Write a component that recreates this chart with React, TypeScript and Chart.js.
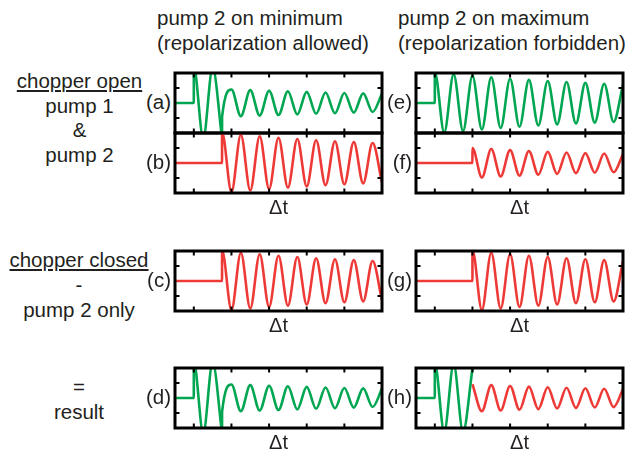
import React, { useEffect, useRef } from "react";
import { Chart, registerables } from "chart.js";
Chart.register(...registerables);

const GREEN = "#00a651";
const RED = "#ee3a37";
const INK = "#231f20";
const FONT = '"Liberation Sans", Arial, Helvetica, sans-serif';

// axis
const xRange = [0, 11];
const yRange = [-2, 2];
const xTicks = [1, 3, 5, 7, 9];
const yTicks = [-1, 1];

// (a) and (d): pump 1 burst, then reduced oscillation after pump 2 (on minimum)
const aBurstX = [0, 1, 1.001, 1.5, 2, 2.5];
const aBurstY = [0, 0, 2.4, -2.35, 2.35, -2.35];
const aTailX = [2.5, 2.501, 3, 3.5, 4, 4.5, 5, 5.5, 6, 6.5, 7, 7.5, 8, 8.5, 9, 9.5, 10, 10.5, 11];
const aTailY = [-2.35, -0.93, 0.9, -0.88, 0.86, -0.84, 0.82, -0.8, 0.78, -0.76, 0.74, -0.72, 0.7, -0.68, 0.67, -0.64, 0.64, -0.6, 0.62];

// (b) and (c): pump 2 alone, minimum phase
const bX = [0, 2.5, 2.501, 3, 3.5, 4, 4.5, 5, 5.5, 6, 6.5, 7, 7.5, 8, 8.5, 9, 9.5, 10, 10.5, 11];
const bY = [0, 0, 2.05, -1.93, 1.88, -1.83, 1.78, -1.73, 1.68, -1.64, 1.6, -1.56, 1.52, -1.48, 1.45, -1.42, 1.39, -1.36, 1.33, -1.3];

// (e): pump 1 & pump 2 on maximum
const eX = [0, 1, 1.001, 1.5, 2, 2.5, 3, 3.5, 4, 4.5, 5, 5.5, 6, 6.5, 7, 7.5, 8, 8.5, 9, 9.5, 10, 10.5, 11];
const eY = [0, 0, 2.05, -1.97, 1.92, -1.86, 1.82, -1.76, 1.72, -1.67, 1.62, -1.58, 1.54, -1.5, 1.47, -1.43, 1.4, -1.37, 1.34, -1.31, 1.28, -1.26, 1.22];

// (f): pump 2 contribution on maximum
const fX = [0, 3, 3.001, 3.5, 4, 4.5, 5, 5.5, 6, 6.5, 7, 7.5, 8, 8.5, 9, 9.5, 10, 10.5, 11];
const fY = [0, 0, 1.0, -0.97, 0.93, -0.9, 0.86, -0.84, 0.8, -0.78, 0.75, -0.73, 0.7, -0.68, 0.66, -0.65, 0.63, -0.62, 0.6];

// (g): pump 2 only, maximum phase
const gX = [0, 3, 3.001, 3.5, 4, 4.5, 5, 5.5, 6, 6.5, 7, 7.5, 8, 8.5, 9, 9.5, 10, 10.5, 11];
const gY = [0, 0, 2.05, -1.93, 1.88, -1.83, 1.78, -1.73, 1.68, -1.64, 1.6, -1.56, 1.52, -1.48, 1.45, -1.42, 1.39, -1.36, 1.33];

// (h): result
const hBurstX = [0, 1, 1.001, 1.5, 2, 2.5, 3];
const hBurstY = [0, 0, 2.3, -2.25, 2.25, -2.25, 1.95];
const hTailX = [3, 3.5, 4, 4.5, 5, 5.5, 6, 6.5, 7, 7.5, 8, 8.5, 9, 9.5, 10, 10.5, 11];
const hTailY = [0.92, -0.88, 0.86, -0.83, 0.8, -0.78, 0.76, -0.74, 0.72, -0.7, 0.68, -0.66, 0.65, -0.63, 0.62, -0.61, 0.6];

type Series = { x: number[]; y: number[]; color: string };

const BOX_W = 207;
const BOX_H = 60;
const PAD = 4;
const COL_LEFT = [175, 416];
const ROW_TOP = [73, 133, 251, 368];

const panels: { id: string; col: number; row: number; series: Series[] }[] = [
  { id: "a", col: 0, row: 0, series: [{ x: aBurstX, y: aBurstY, color: GREEN }, { x: aTailX, y: aTailY, color: GREEN }] },
  { id: "b", col: 0, row: 1, series: [{ x: bX, y: bY, color: RED }] },
  { id: "c", col: 0, row: 2, series: [{ x: bX, y: bY, color: RED }] },
  { id: "d", col: 0, row: 3, series: [{ x: aBurstX, y: aBurstY, color: GREEN }, { x: aTailX, y: aTailY, color: GREEN }] },
  { id: "e", col: 1, row: 0, series: [{ x: eX, y: eY, color: GREEN }] },
  { id: "f", col: 1, row: 1, series: [{ x: fX, y: fY, color: RED }] },
  { id: "g", col: 1, row: 2, series: [{ x: gX, y: gY, color: RED }] },
  { id: "h", col: 1, row: 3, series: [{ x: hBurstX, y: hBurstY, color: GREEN }, { x: hTailX, y: hTailY, color: RED }] },
];

const framePlugin = {
  id: "frame",
  afterDatasetsDraw(chart: any) {
    const { ctx, chartArea } = chart;
    const { left, right, top, bottom } = chartArea;
    const xs = chart.scales.x;
    const ys = chart.scales.y;
    const tl = 4.5;
    ctx.save();
    ctx.strokeStyle = "#000";
    ctx.lineWidth = 2;
    ctx.beginPath();
    for (const v of xTicks) {
      const px = xs.getPixelForValue(v);
      ctx.moveTo(px, top);
      ctx.lineTo(px, top + tl);
      ctx.moveTo(px, bottom);
      ctx.lineTo(px, bottom - tl);
    }
    for (const v of yTicks) {
      const py = ys.getPixelForValue(v);
      ctx.moveTo(left, py);
      ctx.lineTo(left + tl, py);
      ctx.moveTo(right, py);
      ctx.lineTo(right - tl, py);
    }
    ctx.stroke();
    ctx.lineWidth = 3;
    ctx.strokeRect(left, top, right - left, bottom - top);
    ctx.restore();
  },
};

function Panel({ left, top, series }: { left: number; top: number; series: Series[] }) {
  const ref = useRef<HTMLCanvasElement>(null);
  useEffect(() => {
    if (!ref.current) return;
    const chart = new Chart(ref.current, {
      type: "line",
      data: {
        datasets: series.map((s) => ({
          data: s.x.map((x, i) => ({ x, y: s.y[i] })),
          borderColor: s.color,
          borderWidth: 2.6,
          pointRadius: 0,
          fill: false,
          cubicInterpolationMode: "monotone" as const,
        })),
      },
      options: {
        animation: false,
        responsive: false,
        events: [],
        layout: { padding: PAD },
        plugins: { legend: { display: false }, tooltip: { enabled: false } },
        scales: {
          x: { type: "linear", min: xRange[0], max: xRange[1], display: false },
          y: { type: "linear", min: yRange[0], max: yRange[1], display: false },
        },
      },
      plugins: [framePlugin],
    } as any);
    return () => chart.destroy();
  }, []);
  return (
    <canvas
      ref={ref}
      width={BOX_W + 2 * PAD}
      height={BOX_H + 2 * PAD}
      style={{ position: "absolute", left: left - PAD, top: top - PAD, width: BOX_W + 2 * PAD, height: BOX_H + 2 * PAD }}
    />
  );
}

const textBase: React.CSSProperties = {
  position: "absolute",
  fontFamily: FONT,
  fontSize: 20.5,
  color: INK,
  whiteSpace: "nowrap",
};

export default function App() {
  return (
    <div style={{ position: "absolute", left: 0, top: 0, width: 638, height: 453, background: "#fff", overflow: "hidden" }}>
      <div style={{ ...textBase, left: 157, top: 4.8, lineHeight: "25px" }}>
        pump 2 on minimum<br />(repolarization allowed)
      </div>
      <div style={{ ...textBase, left: 398, top: 4.8, lineHeight: "25px" }}>
        pump 2 on maximum<br />(repolarization forbidden)
      </div>
      <div style={{ ...textBase, left: 0, width: 159, textAlign: "center", top: 68.8, lineHeight: "24.8px" }}>
        <span style={{ textDecoration: "underline" }}>chopper open</span><br />pump 1<br />&amp;<br />pump 2
      </div>
      <div style={{ ...textBase, left: 0, width: 158, textAlign: "center", top: 247.1, lineHeight: "25px" }}>
        <span style={{ textDecoration: "underline" }}>chopper closed</span><br />-<br />pump 2 only
      </div>
      <div style={{ ...textBase, left: 0, width: 158, textAlign: "center", top: 373.8, lineHeight: "25px" }}>
        =<br />result
      </div>
      {panels.map((p) => {
        const left = COL_LEFT[p.col];
        const top = ROW_TOP[p.row];
        const center = top + BOX_H / 2;
        return (
          <React.Fragment key={p.id}>
            <Panel left={left} top={top} series={p.series} />
            <div style={{ ...textBase, left: left - 4 - 40, width: 40, textAlign: "right", top: center - 13.6, lineHeight: "25px" }}>
              ({p.id})
            </div>
            {p.row !== 0 ? (
              <div style={{ ...textBase, fontSize: 20, left, width: BOX_W, textAlign: "center", top: top + BOX_H + 1.5, lineHeight: "25px" }}>
                Δt
              </div>
            ) : null}
          </React.Fragment>
        );
      })}
    </div>
  );
}
